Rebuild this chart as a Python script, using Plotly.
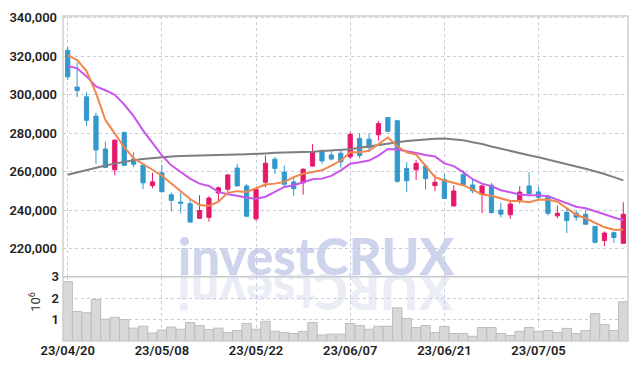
import plotly.graph_objects as go

dates = ["2023-04-20","2023-04-21","2023-04-24","2023-04-25","2023-04-26","2023-04-27","2023-04-28",
         "2023-05-02","2023-05-03","2023-05-04","2023-05-08","2023-05-09","2023-05-10","2023-05-11","2023-05-12",
         "2023-05-15","2023-05-16","2023-05-17","2023-05-18","2023-05-19","2023-05-22","2023-05-23","2023-05-24",
         "2023-05-25","2023-05-26","2023-05-30","2023-05-31","2023-06-01","2023-06-02","2023-06-05","2023-06-07",
         "2023-06-08","2023-06-09","2023-06-12","2023-06-13","2023-06-14","2023-06-15","2023-06-16","2023-06-19",
         "2023-06-20","2023-06-21","2023-06-22","2023-06-23","2023-06-26","2023-06-27","2023-06-28","2023-06-29",
         "2023-06-30","2023-07-03","2023-07-04","2023-07-05","2023-07-06","2023-07-07","2023-07-10","2023-07-11",
         "2023-07-12","2023-07-13","2023-07-14","2023-07-17","2023-07-18"]

open_ = [323200,304100,299000,289000,271900,261100,280500,266700,263500,252900,
         259500,248100,244300,243500,235900,236400,249000,251000,262000,252700,
         235600,254600,266600,259900,254800,254300,263000,270500,268800,269700,
         267800,277400,277000,279300,288200,286600,261800,261100,263000,252900,
         256000,242300,258500,253200,248300,253100,240200,237700,245000,252700,
         249600,247400,237200,239000,238500,238000,231700,224300,228400,222900]
high = [325000,316800,301400,290700,275700,276800,281000,270200,263600,259600,
        263600,249300,249300,246600,247900,247400,252400,259000,264200,253700,
        251700,268500,267600,263300,257500,261800,274400,271700,271000,271000,
        280800,280100,280100,286500,288500,286700,265000,266200,264200,258500,
        259000,253100,260800,256000,253400,254300,244000,245000,252600,259900,
        252200,248100,242500,241100,240000,240400,231700,229100,229000,244200]
low = [307800,298800,283900,264200,262000,258200,263000,262500,251000,251500,
       249500,239400,238500,233800,235800,234200,244500,249600,252500,236500,
       234600,251900,258900,251800,247600,248200,262800,264200,265900,262100,
       266700,267100,270200,276200,280900,254300,249500,255800,250800,250000,
       246000,242000,253000,248800,238500,238300,236300,235600,243600,248700,
       245400,237300,235900,228200,234600,232700,222900,221400,223100,222600]
close = [309400,302200,286800,271400,262300,276500,263400,264000,254300,254800,
         249700,245200,243700,233900,239900,246400,251700,258400,252700,237000,
         251000,264500,261800,253600,251300,261400,270300,265700,266700,265200,
         279400,268500,272600,285100,281100,255100,255400,264400,256500,254600,
         246200,250100,253400,250200,252700,238900,238000,243300,249500,248800,
         246800,238500,238500,234700,236400,232800,223400,228200,225900,238000]

ma5 = [320700,318100,312400,301000,287000,280100,272800,267100,263900,261100,
       258000,253900,249600,245900,242800,242300,244500,249100,250000,249600,
       251500,253400,253900,254800,257300,259000,259900,260800,263300,265900,
       270200,270200,271000,274400,277900,273300,270200,269000,263300,257300,
       255500,254300,253100,250800,248300,247600,246200,244900,244900,244200,
       245500,245700,244500,241100,237700,235900,233400,231200,230000,230000]
ma10 = [315000,313800,309600,304400,302400,300100,295000,289000,281600,275300,
        268600,263400,259900,256500,253900,252700,249600,248400,247600,246600,
        246100,247100,249600,252200,253100,254800,256200,256500,257900,260800,
        264200,265000,265900,268500,271900,271600,270500,269800,268800,268000,
        264400,263000,259900,256200,253900,252600,250500,249300,248300,247900,
        247900,247400,245700,243600,241900,241100,239700,238000,236300,234900]
ma60 = [258500,259800,261000,262100,263300,264300,265300,266000,266700,267200,
        267700,268000,268200,268300,268300,268400,268500,268700,269000,269200,
        269300,269600,269900,270000,270100,270200,270500,270900,271200,271400,
        271800,272600,273300,274300,275000,275600,276100,276500,276900,277200,
        277300,277000,276400,275400,274500,273200,272000,271000,269800,268600,
        267600,266500,265300,264000,262800,261600,260400,258900,257300,255600]

volume = [2.77,1.38,1.32,1.94,1.02,1.11,1.00,0.60,0.69,0.37,
          0.51,0.65,0.55,0.86,0.72,0.54,0.60,0.40,0.49,0.82,
          0.55,0.92,0.46,0.40,0.35,0.45,0.86,0.28,0.32,0.32,
          0.82,0.72,0.55,0.69,0.69,1.55,1.05,0.63,0.72,0.40,
          0.68,0.35,0.35,0.22,0.63,0.63,0.35,0.26,0.45,0.63,
          0.45,0.49,0.40,0.59,0.35,0.49,1.28,0.77,0.49,1.83]
volume = [v * 1e6 for v in volume]

tick_idx = [0, 10, 20, 30, 40, 50]
tick_dates = [dates[i] for i in tick_idx]
tick_text = [d[2:4] + "/" + d[5:7] + "/" + d[8:10] for d in tick_dates]
price_ticks = [220000, 240000, 260000, 280000, 300000, 320000, 340000]

RED = "#e5186c"
BLUE = "#3399cc"
FONT = "Roboto"
GRID = "#c8cbdc"
VSPLIT = 0.1976
tf = dict(family=FONT, size=13, color="#1e1e1e", weight=600)

fig = go.Figure()
fig.add_trace(go.Bar(x=dates, y=volume, xaxis="x", yaxis="y2",
                     marker=dict(color="#d8d8d8", line=dict(color="#bdbdbd", width=1)),
                     width=1.0, showlegend=False))
fig.add_trace(go.Scatter(x=dates, y=ma60, mode="lines", line=dict(color="#7f7f7f", width=2),
                         showlegend=False, hoverinfo="skip"))
fig.add_trace(go.Candlestick(x=dates, open=open_, high=high, low=low, close=close,
                             increasing=dict(line=dict(color=RED, width=1), fillcolor=RED),
                             decreasing=dict(line=dict(color=BLUE, width=1), fillcolor=BLUE),
                             whiskerwidth=0, showlegend=False))
fig.add_trace(go.Scatter(x=dates, y=ma10, mode="lines", line=dict(color="#c956ea", width=2),
                         showlegend=False, hoverinfo="skip"))
fig.add_trace(go.Scatter(x=dates, y=ma5, mode="lines", line=dict(color="#ef874c", width=2),
                         showlegend=False, hoverinfo="skip"))

wm = dict(family="Lato", size=51, weight=900)
fig.update_layout(
    width=637, height=369,
    margin=dict(l=63, r=9, t=12, b=28),
    paper_bgcolor="white", plot_bgcolor="white",
    boxgap=0.36,
    font=dict(family=FONT, size=13, color="#222222"),
    xaxis=dict(type="category", range=[-0.5, 59.5], anchor="y2",
               tickvals=tick_dates, ticktext=tick_text, showgrid=True,
               gridcolor=GRID, griddash="dot", gridwidth=1,
               rangeslider=dict(visible=False), showline=False, ticks="",
               tickfont=tf),
    yaxis=dict(domain=[VSPLIT, 1], range=[205500, 341000], tickvals=price_ticks,
               tickformat=",d", showgrid=True, gridcolor=GRID, griddash="dot",
               zeroline=False, ticks="", ticklabelstandoff=5, tickfont=tf),
    yaxis2=dict(domain=[0, VSPLIT], range=[0, 3.0e6], tickvals=[1e6, 2e6, 3e6],
                ticktext=["1", "2", "3"], showgrid=True, gridcolor=GRID, griddash="dot",
                zeroline=False, ticks="", ticklabelstandoff=3, tickfont=tf),
    shapes=[
        dict(type="rect", xref="paper", yref="paper", x0=0, x1=1, y0=0, y1=1,
             line=dict(color="#cfcfcf", width=1.5), layer="above"),
        dict(type="line", xref="paper", yref="paper", x0=0, x1=1, y0=VSPLIT, y1=VSPLIT,
             line=dict(color="#c8c8c8", width=1.5), layer="above"),
    ],
    annotations=[
        dict(text="investCRUX", xref="paper", yref="paper", x=0.4478, y=0.262,
             xanchor="center", yanchor="middle", showarrow=False,
             font=dict(wm, color="rgba(188,197,228,0.75)")),
        dict(text="XURCtsevni", xref="paper", yref="paper", x=0.4478, y=0.150,
             xanchor="center", yanchor="middle", showarrow=False, textangle=180,
             font=dict(wm, color="rgba(205,211,232,0.42)")),
        dict(text="10<sup>6</sup>", xref="paper", yref="paper", x=-0.05, y=0.12,
             xanchor="center", yanchor="middle", showarrow=False, textangle=-90,
             font=dict(family=FONT, size=13, color="#333333")),
    ],
)

fig.write_html("out.html")
